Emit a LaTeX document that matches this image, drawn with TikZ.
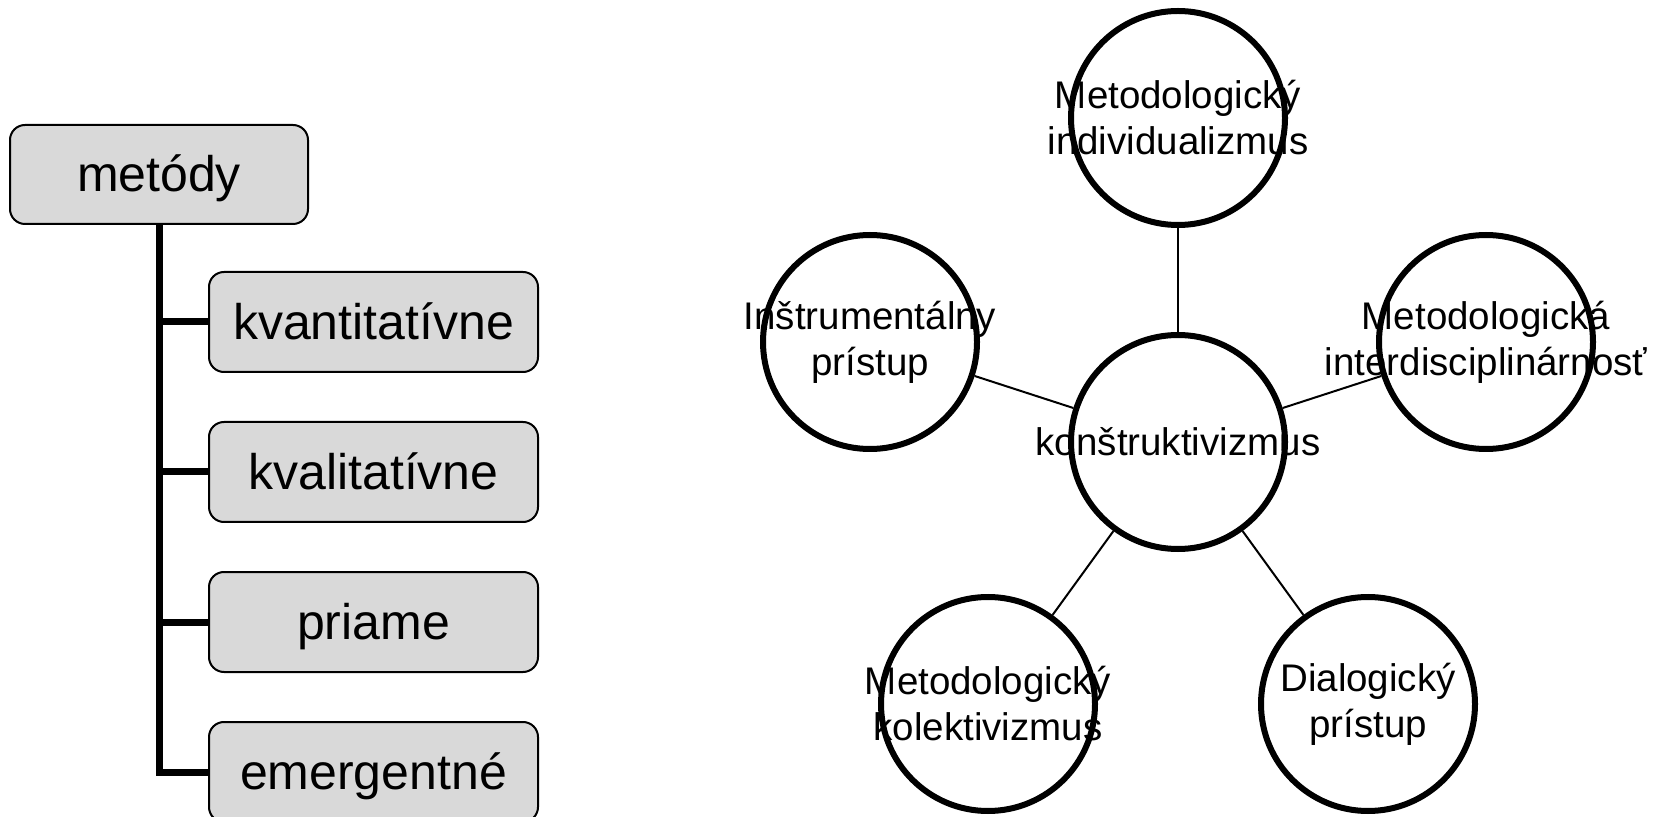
\documentclass[tikz,border=0pt]{standalone}
\usepackage{fontspec}
\setmainfont{Liberation Sans}
\definecolor{boxgray}{RGB}{217,217,217}
\begin{document}
\begin{tikzpicture}[x=0.5pt,y=-0.5pt,
  box/.style={draw=black, line width=1pt, fill=boxgray, rounded corners=7.5pt,
    inner sep=0pt, font=\fontsize{25pt}{30pt}\selectfont,
    text height=22.5pt, text depth=5.25pt},
  childbox/.style={box, minimum width=164.5pt, minimum height=50pt},
  treeline/.style={line width=3.5pt},
  circ/.style={circle, draw=black, line width=3pt, minimum size=107pt, inner sep=0pt},
  lab/.style={align=center, inner sep=0pt, font=\fontsize{19.25pt}{23pt}\selectfont},
  conn/.style={line width=1pt}]
\useasboundingbox (0,0) rectangle (1664,817);
% left tree
\node[box, minimum width=149pt, minimum height=49.5pt] (m) at (159,174.5) {metódy};
\node[childbox] (k1) at (373.5,322) {kvantitatívne};
\node[childbox] (k2) at (373.5,472) {kvalitatívne};
\node[childbox] (k3) at (373.5,622) {priame};
\node[childbox] (k4) at (373.5,772) {emergentné};
\draw[treeline] (m.south) -- (m.south |- k4.west) -- (k4.west);
\draw[treeline] (m.south |- k1.west) -- (k1.west);
\draw[treeline] (m.south |- k2.west) -- (k2.west);
\draw[treeline] (m.south |- k3.west) -- (k3.west);
% right circles
\node[circ] (c) at (1178,442) {};
\node[circ] (t) at (1178,118) {};
\node[circ] (l) at (870,342) {};
\node[circ] (r) at (1486,342) {};
\node[circ] (bl) at (988,704) {};
\node[circ] (br) at (1368,704) {};
\draw[conn] (c) -- (t);
\draw[conn] (c) -- (l);
\draw[conn] (c) -- (r);
\draw[conn] (c) -- (bl);
\draw[conn] (c) -- (br);
\node[lab] (ct) at (c) {konštruktivizmus};
\node[lab] (tt) at (t) {Metodologický\\individualizmus};
\node[lab] (lt) at (l) {Inštrumentálny\\prístup};
\node[lab] (rt) at (r) {Metodologická\\interdisciplinárnosť};
\node[lab] (blt) at (bl) {Metodologický\\kolektivizmus};
\node[lab] (brt) at (br) {Dialogický\\prístup};
\end{tikzpicture}
\end{document}
